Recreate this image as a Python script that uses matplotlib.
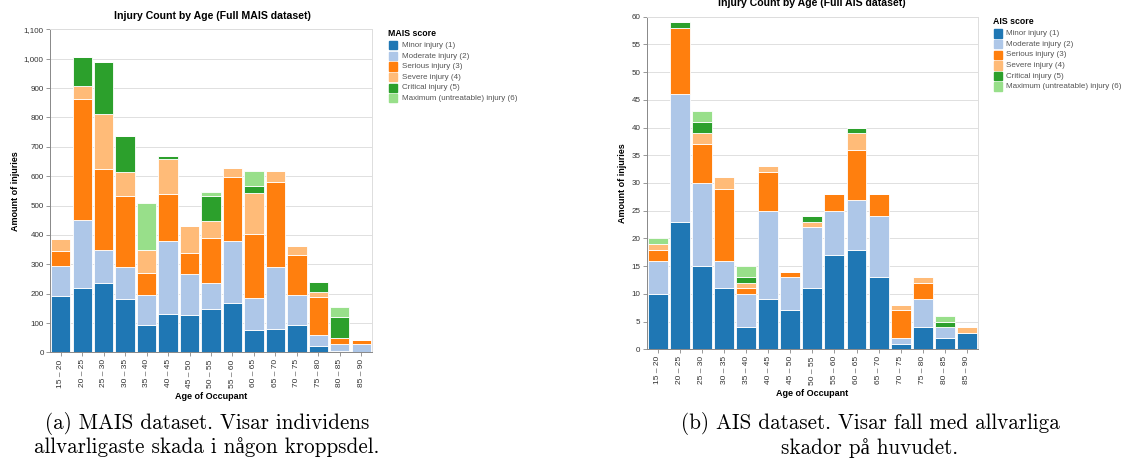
import matplotlib
matplotlib.use("Agg")
import matplotlib.pyplot as plt
from matplotlib.patches import Rectangle
import numpy as np

plt.rcParams['font.family'] = ['Liberation Sans', 'DejaVu Sans']

age_groups = ["15 – 20", "20 – 25", "25 – 30", "30 – 35", "35 – 40", "40 – 45",
              "45 – 50", "50 – 55", "55 – 60", "60 – 65", "65 – 70", "70 – 75",
              "75 – 80", "80 – 85", "85 – 90"]

severity = ["Minor injury (1)", "Moderate injury (2)", "Serious injury (3)",
            "Severe injury (4)", "Critical injury (5)",
            "Maximum (untreatable) injury (6)"]
sev_colors = ["#1f77b4", "#aec7e8", "#ff7f0e", "#ffbb78", "#2ca02c", "#98df8a"]

# MAIS counts per age group, one list per score 1..6
mais_minor    = [191, 220, 235, 181,  93, 132, 127, 148, 167,  75,  80,  93, 23,  5,  1]
mais_moderate = [104, 231, 115, 111, 104, 248, 141,  89, 211, 111, 212, 102, 36, 22, 26]
mais_serious  = [ 49, 412, 273, 240,  72, 158,  70, 151, 219, 216, 289, 138, 128, 21, 16]
mais_severe   = [ 43,  45, 188,  82,  78, 119,  92,  59,  31, 140,  38,  28,  20,  0,  0]
mais_critical = [  0,  98, 179, 123,   0,  13,   0,  84,   0,  25,   0,   0,  31, 74,  0]
mais_maximum  = [  0,   0,   0,   0, 162,   0,   0,  14,   0,  52,   0,   0,   0, 31,  0]

# AIS (head) counts per age group
ais_minor    = [10, 23, 15, 11, 4,  9, 7, 11, 17, 18, 13, 1, 4, 2, 3]
ais_moderate = [ 6, 23, 15,  5, 6, 16, 6, 11,  8,  9, 11, 1, 5, 2, 0]
ais_serious  = [ 2, 12,  7, 13, 1,  7, 1,  0,  3,  9,  4, 5, 3, 0, 0]
ais_severe   = [ 1,  0,  2,  2, 1,  1, 0,  1,  0,  3,  0, 1, 1, 0, 1]
ais_critical = [ 0,  1,  2,  0, 1,  0, 0,  1,  0,  1,  0, 0, 0, 1, 0]
ais_maximum  = [ 1,  0,  2,  0, 2,  0, 0,  0,  0,  0,  0, 0, 0, 1, 0]

W, H = 1131, 473
fig = plt.figure(figsize=(W / 100, H / 100), dpi=100)


def px(x, y):
    # pixel position (top-left origin) -> figure fraction
    return x / W, 1 - y / H


def stacked(ax, series, ymax, ystep):
    x = np.arange(len(age_groups))
    bottom = np.zeros(len(age_groups))
    for vals, col in zip(series, sev_colors):
        vals = np.array(vals, dtype=float)
        ax.bar(x, vals, width=0.9, bottom=bottom, color=col,
               edgecolor="white", linewidth=0.6, zorder=3)
        bottom += vals
    ax.set_xlim(-0.5, len(age_groups) - 0.5)
    ax.set_ylim(0, ymax)
    ax.set_yticks(np.arange(0, ymax + 1, ystep))
    ax.set_xticks(x)
    ax.set_xticklabels(age_groups, rotation=90, fontsize=6, color="#333")
    ax.tick_params(axis="y", labelsize=5.8, labelcolor="#333", length=3,
                   color="#888", width=0.6, pad=1.5)
    ax.tick_params(axis="x", length=3, color="#888", width=0.6, pad=2)
    ax.grid(axis="y", color="#e0e0e0", linewidth=0.7, zorder=0)
    for s in ("top", "right"):
        ax.spines[s].set_color("#dddddd")
        ax.spines[s].set_linewidth(0.7)
    for s in ("left", "bottom"):
        ax.spines[s].set_color("#888888")
        ax.spines[s].set_linewidth(0.7)
    ax.set_xlabel("Age of Occupant", fontsize=6.5, fontweight="bold", labelpad=3)
    ax.set_ylabel("Amount of injuries", fontsize=6.5, fontweight="bold", labelpad=3)


def legend(title, x, y, dy=10.6):
    fig.text(*px(x, y), title, fontsize=6.3, fontweight="bold",
             va="center", ha="left")
    for i, (lab, col) in enumerate(zip(severity, sev_colors)):
        yy = y + 12.5 + i * dy
        x0, y0 = px(x + 0.5, yy + 4)
        fig.patches.append(Rectangle((x0, y0), 8.3 / W, 8.3 / H, color=col,
                                     transform=fig.transFigure, figure=fig))
        fig.text(*px(x + 13, yy), lab, fontsize=5.8, color="#555",
                 va="center", ha="left")


# left panel: MAIS
l, b = px(50, 352.4)
ax1 = fig.add_axes([l, b, 322 / W, (352.4 - 29.3) / H])
stacked(ax1, [mais_minor, mais_moderate, mais_serious, mais_severe,
              mais_critical, mais_maximum], 1100, 100)
ax1.yaxis.set_major_formatter(matplotlib.ticker.StrMethodFormatter("{x:,.0f}"))
fig.text(*px(212, 16), "Injury Count by Age (Full MAIS dataset)", fontsize=7.6,
         fontweight="bold", ha="center", va="center")
legend("MAIS score", 388.5, 33)

# right panel: AIS
l, b = px(646.7, 349.3)
ax2 = fig.add_axes([l, b, (978 - 646.7) / W, (349.3 - 16.7) / H])
stacked(ax2, [ais_minor, ais_moderate, ais_serious, ais_severe,
              ais_critical, ais_maximum], 60, 5)
fig.text(*px(812, 3), "Injury Count by Age (Full AIS dataset)", fontsize=7.6,
         fontweight="bold", ha="center", va="center")
legend("AIS score", 993, 21.3)

# captions (cmr10 has no å, so it falls back to a serif face)
cap = dict(fontsize=15.2, family=["cmr10", "Liberation Serif"], ha="center",
           va="center")
fig.text(*px(207, 423), "(a) MAIS dataset. Visar individens", **cap)
fig.text(*px(207, 447), "allvarligaste skada i någon kroppsdel.", **cap)
fig.text(*px(870, 423), "(b) AIS dataset. Visar fall med allvarliga", **cap)
fig.text(*px(870, 448), "skador på huvudet.", **cap)

fig.savefig("out.png", dpi=100)
